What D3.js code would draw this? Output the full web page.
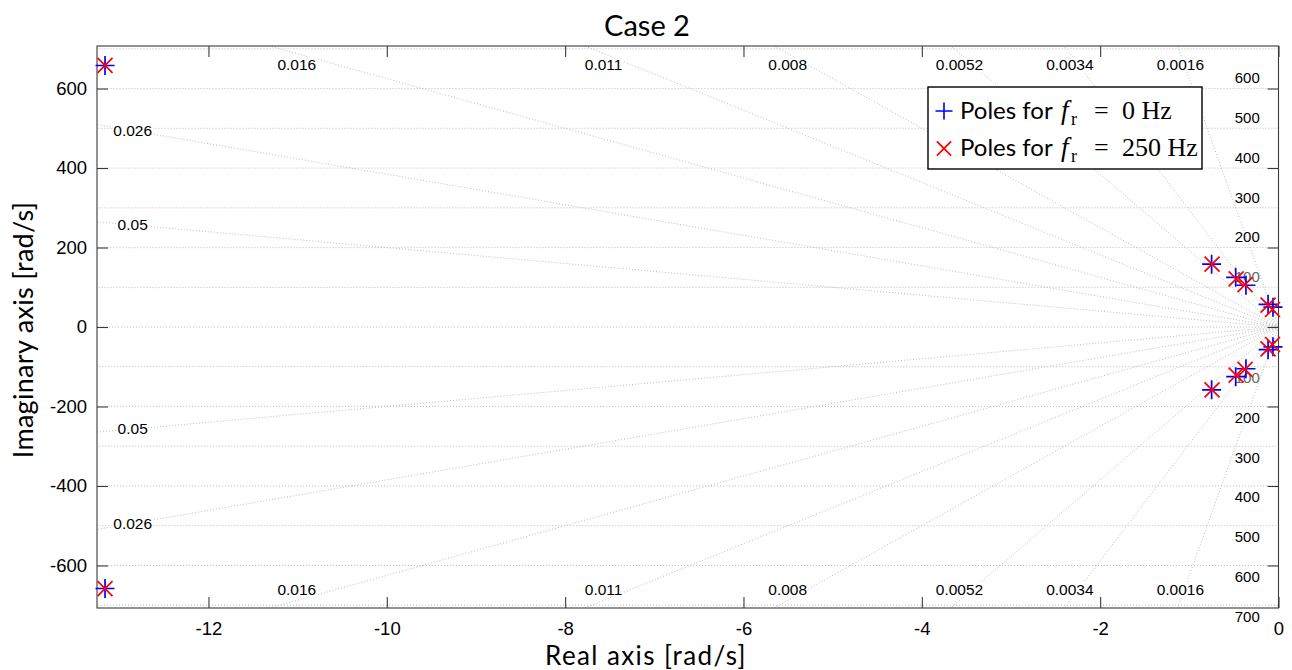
<!DOCTYPE html>
<html>
<head>
<meta charset="utf-8">
<script src="https://cdn.jsdelivr.net/npm/d3@7"></script>
<style>
  body { margin: 0; background: #fff; }
  svg { display: block; }
</style>
</head>
<body>
<svg id="chart" width="1292" height="670"></svg>
<script>
// Pole locations: real part and imaginary part [rad/s]
const polesRe_0Hz   = [-13.16, -13.16, -0.75, -0.75, -0.48, -0.48, -0.365, -0.365, -0.117, -0.117, -0.062, -0.062];
const polesIm_0Hz   = [658, -658, 158, -158, 125, -125, 105, -105, 57, -57, 50, -50];
const polesRe_250Hz = [-13.16, -13.16, -0.745, -0.745, -0.475, -0.475, -0.375, -0.375, -0.117, -0.117, -0.067, -0.067];
const polesIm_250Hz = [658, -658, 158, -158, 121, -121, 106.5, -106.5, 55, -55, 44, -44];

// s-plane grid: damping ratios and natural frequencies
const dampingRatios = [0.0016, 0.0034, 0.0052, 0.008, 0.011, 0.016, 0.026, 0.05];
const dampingLabels = ["0.0016", "0.0034", "0.0052", "0.008", "0.011", "0.016", "0.026", "0.05"];
const naturalFreqs  = [100, 200, 300, 400, 500, 600, 700];
const naturalFreqLabelsTop    = ["100", "200", "300", "400", "500", "600"];
const naturalFreqLabelsBottom = ["100", "200", "300", "400", "500", "600", "700"];

// Axis ticks
const xTicks = [-12, -10, -8, -6, -4, -2, 0];
const yTicks = [-600, -400, -200, 0, 200, 400, 600];

const xDomain = [-13.25, 0];
const yDomain = [-707, 707];

const svg = d3.select("#chart");
const plotLeft = 97, plotRight = 1278.5, plotTop = 46, plotBottom = 608;

const x = d3.scaleLinear().domain(xDomain).range([plotLeft, plotRight]);
const y = d3.scaleLinear().domain(yDomain).range([plotBottom, plotTop]);

const gridColor = "#b4b4b4";
const axisColor = "#3a3a3a";
const tickFont = "'Liberation Sans', Arial, Helvetica, sans-serif";
const plainNumber = d => String(d);

svg.append("defs").append("clipPath").attr("id", "plot-clip")
  .append("rect").attr("x", plotLeft).attr("y", plotTop)
  .attr("width", plotRight - plotLeft).attr("height", plotBottom - plotTop);

const grid = svg.append("g").attr("clip-path", "url(#plot-clip)")
  .attr("fill", "none").attr("stroke", gridColor)
  .attr("stroke-width", 0.9).attr("stroke-dasharray", "1 2");

// Natural-frequency semicircles in the left half plane
const arc = d3.line().x(d => x(d[0])).y(d => y(d[1]));
naturalFreqs.forEach(wn => {
  const pts = d3.range(0, 4001).map(i => {
    const t = Math.PI / 2 + Math.PI * i / 4000;
    return [wn * Math.cos(t), wn * Math.sin(t)];
  });
  grid.append("path").attr("d", arc(pts));
});

// Real axis grid line
grid.append("line").attr("x1", x(xDomain[0])).attr("x2", x(0))
  .attr("y1", y(0)).attr("y2", y(0));

// Constant-damping rays from the origin
const rayLen = 5000;
dampingRatios.forEach(z => {
  const s = Math.sqrt(1 - z * z);
  [1, -1].forEach(sg => {
    grid.append("line")
      .attr("x1", x(0)).attr("y1", y(0))
      .attr("x2", x(-rayLen * z)).attr("y2", y(sg * rayLen * s));
  });
});

// Axes box and inward ticks on all four sides
const tickLen = 11;
const axB = svg.append("g").attr("transform", `translate(0,${plotBottom})`)
  .call(d3.axisBottom(x).tickValues(xTicks).tickSizeInner(-tickLen).tickSizeOuter(0)
        .tickPadding(14).tickFormat(plainNumber));
const axT = svg.append("g").attr("transform", `translate(0,${plotTop})`)
  .call(d3.axisTop(x).tickValues(xTicks).tickSizeInner(-tickLen).tickSizeOuter(0).tickFormat(""));
const axL = svg.append("g").attr("transform", `translate(${plotLeft},0)`)
  .call(d3.axisLeft(y).tickValues(yTicks).tickSizeInner(-tickLen).tickSizeOuter(0)
        .tickPadding(10).tickFormat(plainNumber));
const axR = svg.append("g").attr("transform", `translate(${plotRight},0)`)
  .call(d3.axisRight(y).tickValues(yTicks).tickSizeInner(-tickLen).tickSizeOuter(0).tickFormat(""));

[axB, axT, axL, axR].forEach(g => {
  g.select(".domain").remove();
  g.selectAll(".tick line").attr("stroke", axisColor).attr("stroke-width", 1.1);
  g.selectAll(".tick text").attr("fill", "#000")
    .style("font-family", tickFont).style("font-size", "18.5px");
});
// Axes frame
svg.append("rect").attr("x", plotLeft).attr("y", plotTop)
  .attr("width", plotRight - plotLeft).attr("height", plotBottom - plotTop)
  .attr("fill", "none").attr("stroke", axisColor).attr("stroke-width", 1.1);

// Labels with white backing
function boxedLabel(px, py, txt, size, anchor) {
  const g = svg.append("g");
  const t = g.append("text").attr("x", px).attr("y", py)
    .attr("text-anchor", anchor || "middle").attr("dy", "0.35em")
    .style("font-family", tickFont).style("font-size", size + "px")
    .attr("fill", "#000").text(txt);
  const b = t.node().getBBox();
  g.insert("rect", "text").attr("x", b.x - 1).attr("y", b.y + 1)
    .attr("width", b.width + 2).attr("height", b.height - 2).attr("fill", "#fff");
  return g;
}

// Damping-ratio labels
const yTopLab = 688, yTopText = 660, xLeftLab = -12.85;
dampingRatios.forEach((z, i) => {
  const slope = Math.sqrt(1 - z * z) / z;
  const exitTop = yDomain[1] / slope < -xDomain[0];
  [1, -1].forEach(sg => {
    let lx, ly;
    if (exitTop) {
      lx = -yTopLab / slope;
      ly = sg * yTopText;
    } else {
      lx = xLeftLab;
      ly = sg * (-xLeftLab) * slope;
    }
    boxedLabel(x(lx), y(ly), dampingLabels[i], 15.5);
  });
});

// Natural-frequency labels along the imaginary axis
const wnLabelX = -0.35;
const wnColor = (t) => t === "100" ? "#666" : "#000";
naturalFreqLabelsTop.forEach((t, i) => {
  svg.append("text").attr("x", x(wnLabelX)).attr("y", y(naturalFreqs[i] + 26))
    .attr("dy", "0.35em").attr("text-anchor", "middle").attr("fill", wnColor(t))
    .style("font-family", tickFont).style("font-size", "15px").text(t);
});
naturalFreqLabelsBottom.forEach((t, i) => {
  svg.append("text").attr("x", x(wnLabelX)).attr("y", y(-naturalFreqs[i] - 28))
    .attr("dy", "0.35em").attr("text-anchor", "middle").attr("fill", wnColor(t))
    .style("font-family", tickFont).style("font-size", "15px").text(t);
});

// Pole markers
const plusPath = "M-9.5,0H9.5M0,-9.5V9.5";
const crossPath = "M-7.5,-7.5L7.5,7.5M-7.5,7.5L7.5,-7.5";
const blue = "#0000ff", red = "#ff0000";

svg.append("g").selectAll("path").data(d3.range(polesRe_0Hz.length)).join("path")
  .attr("transform", i => `translate(${x(polesRe_0Hz[i])},${y(polesIm_0Hz[i])})`)
  .attr("d", plusPath).attr("fill", "none").attr("stroke", blue).attr("stroke-width", 1.7);
svg.append("g").selectAll("path").data(d3.range(polesRe_250Hz.length)).join("path")
  .attr("transform", i => `translate(${x(polesRe_250Hz[i])},${y(polesIm_250Hz[i])})`)
  .attr("d", crossPath).attr("fill", "none").attr("stroke", red).attr("stroke-width", 1.7);

// Title and axis labels
const labelFont = "Lato, 'Open Sans', sans-serif";
const labelCenterX = 646;
svg.append("text").attr("x", labelCenterX + 1).attr("y", 36).attr("text-anchor", "middle")
  .style("font-family", labelFont).style("font-size", "29px").text("Case 2");
svg.append("text").attr("x", labelCenterX).attr("y", 665).attr("text-anchor", "middle")
  .style("font-family", labelFont).style("font-size", "26px").style("letter-spacing", "1.4px")
  .text("Real axis [rad/s]");
svg.append("text").attr("transform", `translate(33,330) rotate(-90)`)
  .attr("text-anchor", "middle")
  .style("font-family", labelFont).style("font-size", "27px").style("letter-spacing", "0.3px")
  .text("Imaginary axis [rad/s]");

// Legend
const legend = svg.append("g");
legend.append("rect").attr("x", 928).attr("y", 87).attr("width", 274).attr("height", 82)
  .attr("fill", "#fff").attr("stroke", "#000").attr("stroke-width", 1.4);
const legendEntries = [
  { path: plusPath, color: blue, value: "0" },
  { path: crossPath, color: red, value: "250" }
];
const serif = "'Liberation Serif', 'DejaVu Serif', serif";
legendEntries.forEach((e, i) => {
  const cy = 111 + i * 37.5;
  const base = cy + 7.5;
  legend.append("path").attr("transform", `translate(944,${cy}) scale(${i === 0 ? 0.9 : 0.95})`)
    .attr("d", e.path).attr("fill", "none").attr("stroke", e.color).attr("stroke-width", 1.8);
  const t = legend.append("text").attr("y", base)
    .style("font-family", labelFont).style("font-size", "24px");
  t.append("tspan").attr("x", 960).text("Poles for");
  t.append("tspan").attr("x", 1061).style("font-family", serif).style("font-style", "italic")
    .style("font-size", "27px").text("f");
  t.append("tspan").attr("x", 1071).attr("dy", 6).style("font-family", serif)
    .style("font-size", "18px").text("r");
  t.append("tspan").attr("x", 1094).attr("dy", -6).style("font-family", serif)
    .style("font-size", "26px").text("=");
  t.append("tspan").attr("x", 1122).style("font-family", serif)
    .style("font-size", "26px").text(e.value + " Hz");
});
</script>
</body>
</html>
